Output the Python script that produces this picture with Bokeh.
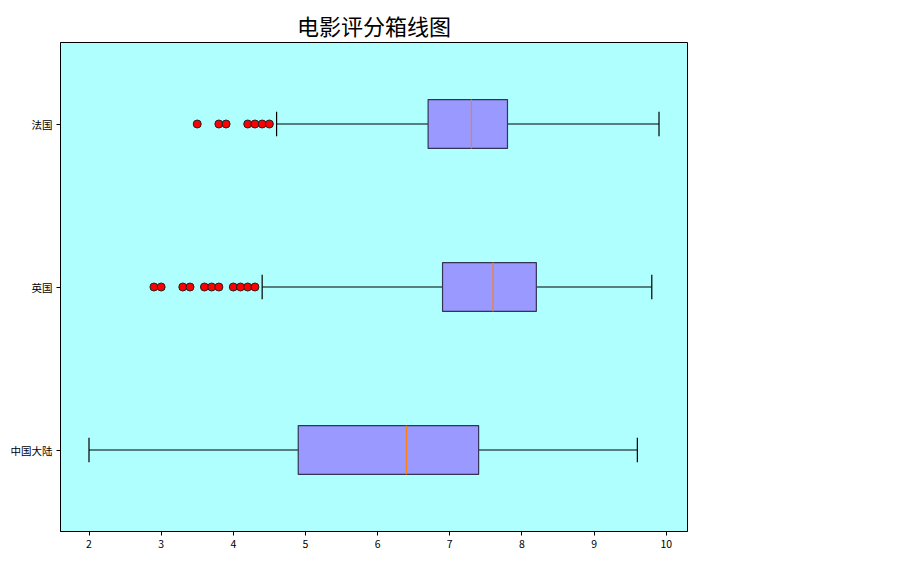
from bokeh.plotting import figure
from bokeh.models import FixedTicker, Range1d
from bokeh.embed import file_html
from bokeh.resources import INLINE

countries = ["中国大陆", "英国", "法国"]
positions = [1, 2, 3]
whisker_low = [2.0, 4.4, 4.6]
q1 = [4.9, 6.9, 6.7]
median = [6.4, 7.6, 7.3]
q3 = [7.4, 8.2, 7.8]
whisker_high = [9.6, 9.8, 9.9]
outliers_uk = [2.9, 3.0, 3.3, 3.4, 3.6, 3.7, 3.8, 4.0, 4.1, 4.2, 4.3]
outliers_fr = [3.5, 3.8, 3.9, 4.2, 4.3, 4.4, 4.5]
x_ticks = [2, 3, 4, 5, 6, 7, 8, 9, 10]

FONT = "Noto Sans CJK SC"
box_w = 0.3
cap_h = 0.15

p = figure(width=913, height=562, output_backend="svg", toolbar_location=None,
           x_range=Range1d(1.605, 10.295), y_range=Range1d(0.5, 3.5),
           min_border_left=60, min_border_right=226, min_border_top=42, min_border_bottom=31)
p.title.text = "电影评分箱线图"
p.title.align = "center"
p.title.text_font = FONT
p.title.text_font_size = "22px"
p.title.text_font_style = "normal"
p.title.text_color = "black"
p.title.standoff = 3

p.background_fill_color = "#b0ffff"
p.border_fill_color = "white"
p.outline_line_color = "black"
p.outline_line_width = 1
p.xgrid.visible = False
p.ygrid.visible = False

# whiskers
p.segment(x0=whisker_low, y0=positions, x1=q1, y1=positions, line_color="black", line_width=1.2)
p.segment(x0=q3, y0=positions, x1=whisker_high, y1=positions, line_color="black", line_width=1.2)
# caps
p.segment(x0=whisker_low, y0=[y - cap_h / 2 for y in positions], x1=whisker_low,
          y1=[y + cap_h / 2 for y in positions], line_color="black", line_width=1.2)
p.segment(x0=whisker_high, y0=[y - cap_h / 2 for y in positions], x1=whisker_high,
          y1=[y + cap_h / 2 for y in positions], line_color="black", line_width=1.2)
# boxes
p.hbar(y=positions, left=q1, right=q3, height=box_w, fill_color="#9999ff",
       line_color="#333355", line_width=1.2)
# medians
p.segment(x0=median, y0=[y - box_w / 2 for y in positions], x1=median,
          y1=[y + box_w / 2 for y in positions], line_color="#ff7f0e", line_width=1.2)
# outliers
p.scatter(x=outliers_uk, y=[2] * len(outliers_uk), size=8, fill_color="red", line_color="#222222", line_width=1)
p.scatter(x=outliers_fr, y=[3] * len(outliers_fr), size=8, fill_color="red", line_color="#222222", line_width=1)

p.xaxis.ticker = FixedTicker(ticks=x_ticks)
p.yaxis.ticker = FixedTicker(ticks=positions)
p.yaxis.major_label_overrides = {pos: c for pos, c in zip(positions, countries)}
for ax in (p.xaxis, p.yaxis):
    ax.minor_tick_line_color = None
    ax.major_tick_in = 0
    ax.major_tick_out = 4
    ax.major_label_text_font = FONT
    ax.major_label_text_font_size = "10.5px"
    ax.major_label_text_color = "black"
    ax.axis_line_color = "black"
    ax.major_label_standoff = 4

open("out.html", "w").write(file_html(p, INLINE))
